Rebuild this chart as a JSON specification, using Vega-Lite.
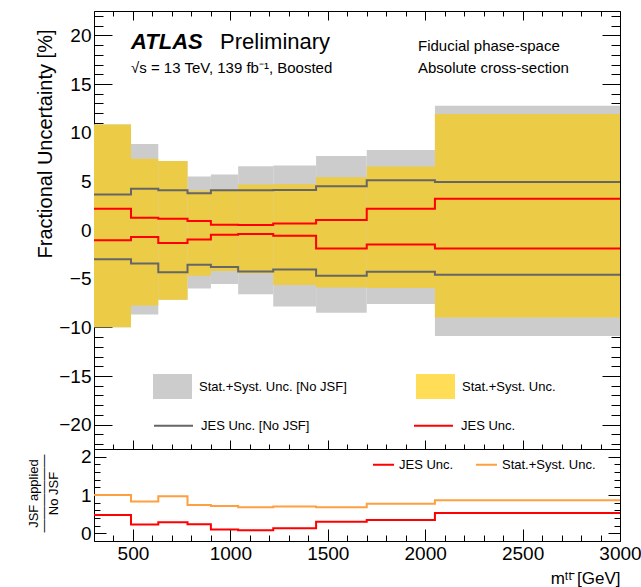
{
  "$schema": "https://vega.github.io/schema/vega-lite/v6.json",
  "background": "white",
  "padding": {"left": 26, "top": 6, "right": 0, "bottom": 0},
  "autosize": {"type": "pad"},
  "config": {
    "font": "Liberation Sans",
    "view": {"stroke": "black", "strokeWidth": 1},
    "axis": {"labelFont": "Liberation Sans", "titleFont": "Liberation Sans", "labelColor": "black", "titleColor": "black", "titleFontWeight": "normal", "tickColor": "black", "tickWidth": 1, "domain": false, "grid": false, "zindex": 1},
    "legend": {"labelFont": "Liberation Sans", "labelColor": "black"}
  },
  "datasets": {
    "bins": [
      {"bin": 1, "lo": 300, "hi": 490, "g_up": 10.85, "g_dn": -10.0, "y_up": 10.85, "y_dn": -10.0},
      {"bin": 2, "lo": 490, "hi": 630, "g_up": 8.84, "g_dn": -8.67, "y_up": 7.31, "y_dn": -7.76},
      {"bin": 3, "lo": 630, "hi": 780, "g_up": 7.08, "g_dn": -7.17, "y_up": 7.08, "y_dn": -7.17},
      {"bin": 4, "lo": 780, "hi": 900, "g_up": 5.5, "g_dn": -6.0, "y_up": 4.06, "y_dn": -4.7},
      {"bin": 5, "lo": 900, "hi": 1040, "g_up": 5.7, "g_dn": -5.56, "y_up": 4.16, "y_dn": -4.2},
      {"bin": 6, "lo": 1040, "hi": 1220, "g_up": 6.55, "g_dn": -6.59, "y_up": 4.68, "y_dn": -4.44},
      {"bin": 7, "lo": 1220, "hi": 1440, "g_up": 6.63, "g_dn": -7.85, "y_up": 4.7, "y_dn": -5.65},
      {"bin": 8, "lo": 1440, "hi": 1700, "g_up": 7.6, "g_dn": -8.5, "y_up": 5.43, "y_dn": -5.92},
      {"bin": 9, "lo": 1700, "hi": 2050, "g_up": 8.23, "g_dn": -7.59, "y_up": 6.53, "y_dn": -5.95},
      {"bin": 10, "lo": 2050, "hi": 3000, "g_up": 12.77, "g_dn": -10.9, "y_up": 11.92, "y_dn": -9.0}
    ],
    "steps": [
      {"bin": 1, "lo": 300, "hi": 490, "series": "JES Unc. [No JSF]", "side": "up", "v": 3.64},
      {"bin": 1, "lo": 300, "hi": 490, "series": "JES Unc. [No JSF]", "side": "dn", "v": -3.0},
      {"bin": 1, "lo": 300, "hi": 490, "series": "JES Unc.", "side": "up", "v": 2.18},
      {"bin": 1, "lo": 300, "hi": 490, "series": "JES Unc.", "side": "dn", "v": -1.05},
      {"bin": 2, "lo": 490, "hi": 630, "series": "JES Unc. [No JSF]", "side": "up", "v": 4.25},
      {"bin": 2, "lo": 490, "hi": 630, "series": "JES Unc. [No JSF]", "side": "dn", "v": -3.44},
      {"bin": 2, "lo": 490, "hi": 630, "series": "JES Unc.", "side": "up", "v": 1.26},
      {"bin": 2, "lo": 490, "hi": 630, "series": "JES Unc.", "side": "dn", "v": -0.71},
      {"bin": 3, "lo": 630, "hi": 780, "series": "JES Unc. [No JSF]", "side": "up", "v": 4.08},
      {"bin": 3, "lo": 630, "hi": 780, "series": "JES Unc. [No JSF]", "side": "dn", "v": -4.35},
      {"bin": 3, "lo": 630, "hi": 780, "series": "JES Unc.", "side": "up", "v": 1.16},
      {"bin": 3, "lo": 630, "hi": 780, "series": "JES Unc.", "side": "dn", "v": -1.33},
      {"bin": 4, "lo": 780, "hi": 900, "series": "JES Unc. [No JSF]", "side": "up", "v": 3.77},
      {"bin": 4, "lo": 780, "hi": 900, "series": "JES Unc. [No JSF]", "side": "dn", "v": -3.56},
      {"bin": 4, "lo": 780, "hi": 900, "series": "JES Unc.", "side": "up", "v": 0.92},
      {"bin": 4, "lo": 780, "hi": 900, "series": "JES Unc.", "side": "dn", "v": -0.98},
      {"bin": 5, "lo": 900, "hi": 1040, "series": "JES Unc. [No JSF]", "side": "up", "v": 4.08},
      {"bin": 5, "lo": 900, "hi": 1040, "series": "JES Unc. [No JSF]", "side": "dn", "v": -3.8},
      {"bin": 5, "lo": 900, "hi": 1040, "series": "JES Unc.", "side": "up", "v": 0.55},
      {"bin": 5, "lo": 900, "hi": 1040, "series": "JES Unc.", "side": "dn", "v": -0.5},
      {"bin": 6, "lo": 1040, "hi": 1220, "series": "JES Unc. [No JSF]", "side": "up", "v": 4.08},
      {"bin": 6, "lo": 1040, "hi": 1220, "series": "JES Unc. [No JSF]", "side": "dn", "v": -4.26},
      {"bin": 6, "lo": 1040, "hi": 1220, "series": "JES Unc.", "side": "up", "v": 0.51},
      {"bin": 6, "lo": 1040, "hi": 1220, "series": "JES Unc.", "side": "dn", "v": -0.42},
      {"bin": 7, "lo": 1220, "hi": 1440, "series": "JES Unc. [No JSF]", "side": "up", "v": 4.12},
      {"bin": 7, "lo": 1220, "hi": 1440, "series": "JES Unc. [No JSF]", "side": "dn", "v": -4.05},
      {"bin": 7, "lo": 1220, "hi": 1440, "series": "JES Unc.", "side": "up", "v": 0.66},
      {"bin": 7, "lo": 1220, "hi": 1440, "series": "JES Unc.", "side": "dn", "v": -0.58},
      {"bin": 8, "lo": 1440, "hi": 1700, "series": "JES Unc. [No JSF]", "side": "up", "v": 4.5},
      {"bin": 8, "lo": 1440, "hi": 1700, "series": "JES Unc. [No JSF]", "side": "dn", "v": -4.7},
      {"bin": 8, "lo": 1440, "hi": 1700, "series": "JES Unc.", "side": "up", "v": 1.03},
      {"bin": 8, "lo": 1440, "hi": 1700, "series": "JES Unc.", "side": "dn", "v": -1.9},
      {"bin": 9, "lo": 1700, "hi": 2050, "series": "JES Unc. [No JSF]", "side": "up", "v": 5.1},
      {"bin": 9, "lo": 1700, "hi": 2050, "series": "JES Unc. [No JSF]", "side": "dn", "v": -4.29},
      {"bin": 9, "lo": 1700, "hi": 2050, "series": "JES Unc.", "side": "up", "v": 2.18},
      {"bin": 9, "lo": 1700, "hi": 2050, "series": "JES Unc.", "side": "dn", "v": -1.5},
      {"bin": 10, "lo": 2050, "hi": 3000, "series": "JES Unc. [No JSF]", "side": "up", "v": 4.93},
      {"bin": 10, "lo": 2050, "hi": 3000, "series": "JES Unc. [No JSF]", "side": "dn", "v": -4.6},
      {"bin": 10, "lo": 2050, "hi": 3000, "series": "JES Unc.", "side": "up", "v": 3.2},
      {"bin": 10, "lo": 2050, "hi": 3000, "series": "JES Unc.", "side": "dn", "v": -1.9}
    ],
    "ratio": [
      {"bin": 1, "lo": 300, "hi": 490, "series": "JES Unc.", "v": 0.48},
      {"bin": 2, "lo": 490, "hi": 630, "series": "JES Unc.", "v": 0.23},
      {"bin": 3, "lo": 630, "hi": 780, "series": "JES Unc.", "v": 0.29},
      {"bin": 4, "lo": 780, "hi": 900, "series": "JES Unc.", "v": 0.24},
      {"bin": 5, "lo": 900, "hi": 1040, "series": "JES Unc.", "v": 0.10},
      {"bin": 6, "lo": 1040, "hi": 1220, "series": "JES Unc.", "v": 0.08},
      {"bin": 7, "lo": 1220, "hi": 1440, "series": "JES Unc.", "v": 0.13},
      {"bin": 8, "lo": 1440, "hi": 1700, "series": "JES Unc.", "v": 0.30},
      {"bin": 9, "lo": 1700, "hi": 2050, "series": "JES Unc.", "v": 0.35},
      {"bin": 10, "lo": 2050, "hi": 3000, "series": "JES Unc.", "v": 0.53},
      {"bin": 1, "lo": 300, "hi": 490, "series": "Stat.+Syst. Unc.", "v": 1.0},
      {"bin": 2, "lo": 490, "hi": 630, "series": "Stat.+Syst. Unc.", "v": 0.83},
      {"bin": 3, "lo": 630, "hi": 780, "series": "Stat.+Syst. Unc.", "v": 0.97},
      {"bin": 4, "lo": 780, "hi": 900, "series": "Stat.+Syst. Unc.", "v": 0.74},
      {"bin": 5, "lo": 900, "hi": 1040, "series": "Stat.+Syst. Unc.", "v": 0.71},
      {"bin": 6, "lo": 1040, "hi": 1220, "series": "Stat.+Syst. Unc.", "v": 0.68},
      {"bin": 7, "lo": 1220, "hi": 1440, "series": "Stat.+Syst. Unc.", "v": 0.70},
      {"bin": 8, "lo": 1440, "hi": 1700, "series": "Stat.+Syst. Unc.", "v": 0.68},
      {"bin": 9, "lo": 1700, "hi": 2050, "series": "Stat.+Syst. Unc.", "v": 0.77},
      {"bin": 10, "lo": 2050, "hi": 3000, "series": "Stat.+Syst. Unc.", "v": 0.86}
    ]
  },
  "spacing": 0,
  "bounds": "flush",
  "resolve": {
    "scale": {"stroke": "independent", "fill": "independent", "x": "independent", "y": "independent"},
    "legend": {"stroke": "independent", "fill": "independent"}
  },
  "vconcat": [
    {
      "width": 526,
      "height": 438,
      "resolve": {"axis": {"x": "independent", "y": "independent"}},
      "layer": [
        {
          "data": {"name": "bins"},
          "mark": {"type": "rect"},
          "encoding": {
            "x": {"field": "lo", "type": "quantitative", "scale": {"domain": [300, 3000], "nice": false, "zero": false},
              "axis": {"orient": "bottom", "values": [300,400,500,600,700,800,900,1000,1100,1200,1300,1400,1500,1600,1700,1800,1900,2000,2100,2200,2300,2400,2500,2600,2700,2800,2900,3000], "labels": false, "title": null,
                "tickSize": {"condition": {"test": "datum.value % 500 === 0", "value": -9}, "value": -5}}},
            "x2": {"field": "hi"},
            "y": {"field": "g_up", "type": "quantitative", "scale": {"domain": [-22.5, 22.5], "nice": false, "zero": false},
              "axis": {"orient": "left", "values": [-22,-21,-20,-19,-18,-17,-16,-15,-14,-13,-12,-11,-10,-9,-8,-7,-6,-5,-4,-3,-2,-1,0,1,2,3,4,5,6,7,8,9,10,11,12,13,14,15,16,17,18,19,20,21,22],
                "labelExpr": "datum.value % 5 === 0 ? format(datum.value, 'd') : ''", "labelFontSize": 19, "labelPadding": 21, "labelOverlap": false,
                "tickSize": {"condition": {"test": "datum.value % 5 === 0", "value": -18}, "value": -9},
                "title": "Fractional Uncertainty [%]", "titleFontSize": 20, "titleAngle": -90, "titleX": -49, "titleY": 18, "titleAlign": "right", "titleBaseline": "middle"}},
            "y2": {"field": "g_dn"},
            "fill": {"datum": "Stat.+Syst. Unc. [No JSF]", "type": "nominal",
              "scale": {"domain": ["Stat.+Syst. Unc. [No JSF]", "Stat.+Syst. Unc."], "range": ["#CCCCCC", "#FFDD57"]},
              "legend": {"orient": "none", "legendX": 59, "legendY": 356, "direction": "horizontal", "columns": 2, "columnPadding": 69, "title": null,
                "symbolType": "M-1,-0.64H1V0.64H-1Z", "symbolSize": 1521, "symbolStrokeWidth": 0, "symbolOpacity": 1, "labelFontSize": 13, "labelOffset": 7, "labelLimit": 400}}
          }
        },
        {
          "data": {"name": "bins"},
          "mark": {"type": "rect", "fill": "#ECCB46"},
          "encoding": {
            "x": {"field": "lo", "type": "quantitative", "scale": {"domain": [300, 3000], "nice": false, "zero": false},
              "axis": {"orient": "top", "values": [300,400,500,600,700,800,900,1000,1100,1200,1300,1400,1500,1600,1700,1800,1900,2000,2100,2200,2300,2400,2500,2600,2700,2800,2900,3000], "labels": false, "title": null,
                "tickSize": {"condition": {"test": "datum.value % 500 === 0", "value": -9}, "value": -5}}},
            "x2": {"field": "hi"},
            "y": {"field": "y_up", "type": "quantitative", "scale": {"domain": [-22.5, 22.5], "nice": false, "zero": false},
              "axis": {"orient": "right", "values": [-22,-21,-20,-19,-18,-17,-16,-15,-14,-13,-12,-11,-10,-9,-8,-7,-6,-5,-4,-3,-2,-1,0,1,2,3,4,5,6,7,8,9,10,11,12,13,14,15,16,17,18,19,20,21,22], "labels": false, "title": null,
                "tickSize": {"condition": {"test": "datum.value % 5 === 0", "value": -18}, "value": -9}}},
            "y2": {"field": "y_dn"}
          }
        },
        {
          "data": {"name": "steps"},
          "transform": [{"fold": ["lo", "hi"], "as": ["edge", "x"]}],
          "mark": {"type": "line", "strokeWidth": 2, "interpolate": "linear"},
          "encoding": {
            "x": {"field": "x", "type": "quantitative", "scale": {"domain": [300, 3000], "nice": false, "zero": false}, "axis": null},
            "y": {"field": "v", "type": "quantitative", "scale": {"domain": [-22.5, 22.5], "nice": false, "zero": false}, "axis": null},
            "stroke": {"field": "series", "type": "nominal",
              "scale": {"domain": ["JES Unc. [No JSF]", "JES Unc."], "range": ["#666666", "#FF0000"]},
              "legend": {"orient": "none", "legendX": 59, "legendY": 394, "direction": "horizontal", "columns": 2, "columnPadding": 100, "title": null,
                "symbolType": "stroke", "symbolSize": 1521, "symbolStrokeWidth": 2, "labelFontSize": 13, "labelOffset": 7, "labelLimit": 400}},
            "detail": {"field": "side"},
            "order": [{"field": "x", "type": "quantitative"}, {"field": "bin", "type": "quantitative"}]
          }
        },
        {
          "data": {"values": [{"x": 490, "y": 18.57, "text": "ATLAS"}]},
          "mark": {"type": "text", "align": "left", "baseline": "alphabetic", "fontSize": 22, "fontWeight": "bold", "fontStyle": "italic", "font": "Liberation Sans", "color": "black"},
          "encoding": {
            "x": {"field": "x", "type": "quantitative", "scale": {"domain": [300, 3000], "nice": false, "zero": false}, "axis": null},
            "y": {"field": "y", "type": "quantitative", "scale": {"domain": [-22.5, 22.5], "nice": false, "zero": false}, "axis": null},
            "text": {"field": "text"}
          }
        },
        {
          "data": {"values": [{"x": 947, "y": 18.57, "text": "Preliminary"}]},
          "mark": {"type": "text", "align": "left", "baseline": "alphabetic", "fontSize": 22, "font": "Liberation Sans", "color": "black"},
          "encoding": {
            "x": {"field": "x", "type": "quantitative", "scale": {"domain": [300, 3000], "nice": false, "zero": false}, "axis": null},
            "y": {"field": "y", "type": "quantitative", "scale": {"domain": [-22.5, 22.5], "nice": false, "zero": false}, "axis": null},
            "text": {"field": "text"}
          }
        },
        {
          "data": {"values": [
            {"x": 490, "y": 16.16, "text": "√s = 13 TeV, 139 fb⁻¹, Boosted"},
            {"x": 1963, "y": 18.39, "text": "Fiducial phase-space"},
            {"x": 1963, "y": 16.16, "text": "Absolute cross-section"}
          ]},
          "mark": {"type": "text", "align": "left", "baseline": "alphabetic", "fontSize": 15, "font": "Liberation Sans", "color": "black"},
          "encoding": {
            "x": {"field": "x", "type": "quantitative", "scale": {"domain": [300, 3000], "nice": false, "zero": false}, "axis": null},
            "y": {"field": "y", "type": "quantitative", "scale": {"domain": [-22.5, 22.5], "nice": false, "zero": false}, "axis": null},
            "text": {"field": "text"}
          }
        }
      ]
    },
    {
      "width": 526,
      "height": 92,
      "resolve": {"axis": {"x": "independent", "y": "independent"}},
      "layer": [
        {
          "mark": {"type": "rule", "color": "black", "strokeWidth": 1},
          "encoding": {
            "y": {"datum": 1, "type": "quantitative", "scale": {"domain": [-0.2, 2.2], "nice": false, "zero": false},
              "axis": {"orient": "right", "values": [-0.2,0,0.2,0.4,0.6,0.8,1,1.2,1.4,1.6,1.8,2,2.2], "labels": false, "title": null,
                "tickSize": {"condition": {"test": "abs(datum.value - round(datum.value)) < 0.001", "value": -12}, "value": -6}}}
          }
        },
        {
          "data": {"name": "ratio"},
          "transform": [{"fold": ["lo", "hi"], "as": ["edge", "x"]}],
          "mark": {"type": "line", "strokeWidth": 2, "interpolate": "linear"},
          "encoding": {
            "x": {"field": "x", "type": "quantitative", "scale": {"domain": [300, 3000], "nice": false, "zero": false},
              "axis": {"orient": "bottom", "values": [300,400,500,600,700,800,900,1000,1100,1200,1300,1400,1500,1600,1700,1800,1900,2000,2100,2200,2300,2400,2500,2600,2700,2800,2900,3000],
                "labelExpr": "datum.value % 500 === 0 ? format(datum.value, 'd') : ''", "labelFontSize": 19, "labelPadding": 15, "labelOverlap": false, "labelFlush": false,
                "tickSize": {"condition": {"test": "datum.value % 500 === 0", "value": -12}, "value": -6},
                "title": "mᵗᵗ̄ [GeV]", "titleFontSize": 17, "titleX": 526, "titleY": 37, "titleAlign": "right", "titleBaseline": "middle"}},
            "y": {"field": "v", "type": "quantitative", "scale": {"domain": [-0.2, 2.2], "nice": false, "zero": false},
              "axis": {"orient": "left", "values": [-0.2,0,0.2,0.4,0.6,0.8,1,1.2,1.4,1.6,1.8,2,2.2],
                "labelExpr": "abs(datum.value - round(datum.value)) < 0.001 ? format(round(datum.value), 'd') : ''", "labelFontSize": 19, "labelPadding": 15, "labelOverlap": false,
                "tickSize": {"condition": {"test": "abs(datum.value - round(datum.value)) < 0.001", "value": -12}, "value": -6},
                "title": ["JSF applied", "——————", "No JSF"], "titleFontSize": 13, "titleLineHeight": 10, "titleAngle": -90, "titleX": -61, "titleY": 44, "titleAlign": "center", "titleBaseline": "middle"}},
            "stroke": {"field": "series", "type": "nominal",
              "scale": {"domain": ["JES Unc.", "Stat.+Syst. Unc."], "range": ["#FF0000", "#FFA040"]},
              "legend": {"orient": "none", "legendX": 278, "legendY": 4, "direction": "horizontal", "columnPadding": 18, "title": null,
                "symbolType": "stroke", "symbolSize": 441, "symbolStrokeWidth": 2, "labelFontSize": 13, "labelOffset": 4, "labelLimit": 400}},
            "order": [{"field": "x", "type": "quantitative"}, {"field": "bin", "type": "quantitative"}]
          }
        }
      ]
    }
  ]
}
